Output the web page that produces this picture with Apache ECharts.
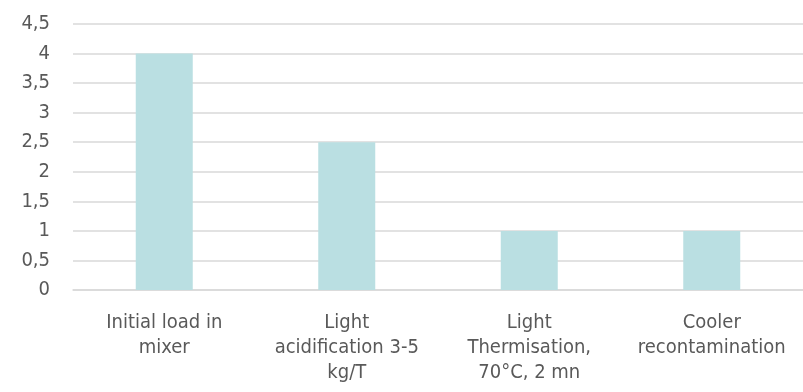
<!DOCTYPE html>
<html>
<head>
<meta charset="utf-8">
<script src="https://cdn.jsdelivr.net/npm/echarts@6/dist/echarts.min.js"></script>
<style>
html,body{margin:0;padding:0;background:#fff;}
#chart{width:803px;height:392px;}
</style>
</head>
<body>
<div id="chart"></div>
<script>
const categories = [
  "Initial load in\nmixer",
  "Light\nacidification 3-5\nkg/T",
  "Light\nThermisation,\n70°C, 2 mn",
  "Cooler\nrecontamination"
];
const values = [4, 2.5, 1, 1];
const yMin = 0, yMax = 4.5, yStep = 0.5;

const FONT = '"DejaVu Sans Condensed", "DejaVu Sans", sans-serif';
const chart = echarts.init(document.getElementById('chart'), null, {renderer: 'canvas'});
chart.setOption({
  animation: false,
  backgroundColor: '#ffffff',
  grid: {left: 73, right: -3, top: 24, bottom: 102, containLabel: false},
  xAxis: {
    type: 'category',
    data: categories,
    axisLine: {show: true, lineStyle: {color: '#d9d9d9', width: 1.5}},
    axisTick: {show: false},
    axisLabel: {
      interval: 0,
      color: '#595959',
      fontFamily: FONT,
      fontSize: 20,
      lineHeight: 25,
      margin: 20
    }
  },
  yAxis: {
    type: 'value',
    min: yMin, max: yMax, interval: yStep,
    axisLine: {show: false},
    axisTick: {show: false},
    splitLine: {lineStyle: {color: '#d9d9d9', width: 1.5}},
    axisLabel: {
      color: '#595959',
      fontFamily: FONT,
      fontSize: 20,
      margin: 23,
      formatter: v => String(v).replace('.', ',')
    }
  },
  series: [{
    type: 'bar',
    data: values,
    barWidth: 57,
    itemStyle: {color: '#badfe2'}
  }]
});
</script>
</body>
</html>
